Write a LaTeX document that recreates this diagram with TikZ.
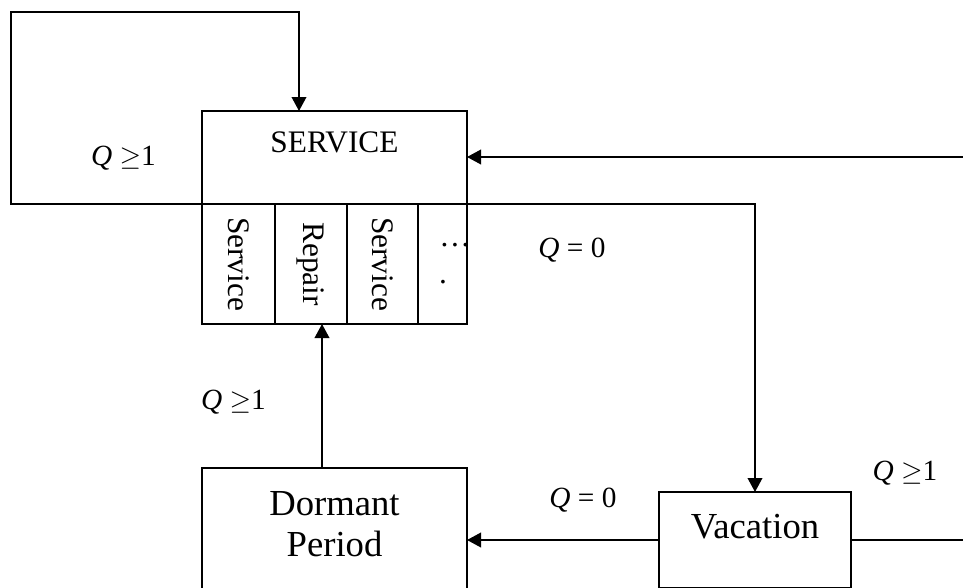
\documentclass[tikz,border=0pt]{standalone}
\usepackage{fontspec}
\setmainfont{Liberation Serif}
\usetikzlibrary{arrows.meta, positioning}

\begin{document}
\begin{tikzpicture}[
    x=0.75pt, y=0.75pt,
    box/.style={draw, line width=1.2pt, inner sep=0pt, outer sep=0pt},
    cell/.style={box, minimum height=90pt},
    celltext/.style={rotate=-90, inner sep=0pt, font=\fontsize{23.5}{28}\selectfont},
    big/.style={inner sep=0pt, align=center, font=\fontsize{27.5}{31}\selectfont},
    cond/.style={inner sep=0pt, font=\fontsize{22}{26}\selectfont},
    arr/.style={-{Triangle[length=10.5pt, width=11pt]}, line width=1.2pt},
    plain/.style={line width=1.2pt}
  ]
  \clip (0,0) rectangle (963,587);

  % service block with its phases
  \node[box, minimum width=198.75pt, minimum height=69.75pt] (service) at (334.5,429.5) {};
  \node[anchor=base, inner sep=0pt, font=\fontsize{23.5}{28}\selectfont] (servicetext) at (334.5,435) {SERVICE};
  \node[cell, minimum width=54.75pt, below right=0pt of service.south west] (cell1) {};
  \node[cell, minimum width=54pt, right=0pt of cell1] (cell2) {};
  \node[cell, minimum width=53.25pt, right=0pt of cell2] (cell3) {};
  \node[cell, minimum width=36.75pt, right=0pt of cell3] (cell4) {};
  \node[celltext] (t1) at (cell1) {Service};
  \node[celltext] (t2) at (cell2) {Repair};
  \node[celltext] (t3) at (cell3) {Service};
  \node[anchor=base, inner sep=0pt, font=\fontsize{23.5}{28}\selectfont] (dots) at (455,341) {…};
  \node[anchor=base, inner sep=0pt, font=\fontsize{23.5}{28}\selectfont] (dot) at (443,304) {.};

  % dormant period and vacation
  \node[box, minimum width=198.75pt, minimum height=108pt] (dormant) at (334.5,47) {};
  \node[big] (dormanttext) at (334.5,63) {Dormant\\Period};
  \node[box, minimum width=144pt, minimum height=72pt] (vacation) at (755,47) {};
  \node[big, anchor=base] (vacationtext) at (755,49) {Vacation};

  % conditions
  \node[cond] (q1) at (123.5,429) {{\itshape Q} $\geq$1};
  \node[cond] (q2) at (572,337) {{\itshape Q} = 0};
  \node[cond] (q3) at (233.5,185) {{\itshape Q} $\geq$1};
  \node[cond] (q4) at (583,87) {{\itshape Q} = 0};
  \node[cond] (q5) at (905,114) {{\itshape Q} $\geq$1};

  \coordinate (loopcorner) at (11,575);
  \coordinate (loopin) at (299,476);
  \coordinate (rin) at ([xshift=8.25pt]cell2.south);
  \coordinate (servin) at (963,430);
  \coordinate (vacout) at (963,47);

  \draw[arr] (service.south west) -| (loopcorner) -| (loopin);
  \draw[arr] (servin) -- (servin -| service.east);
  \draw[arr] (service.south east) -| (vacation.north);
  \draw[arr] (vacation.west) -- (dormant.east);
  \draw[arr] (dormant.north -| rin) -- (rin);
  \draw[plain] (vacation.east) -- (vacout);
\end{tikzpicture}
\end{document}
